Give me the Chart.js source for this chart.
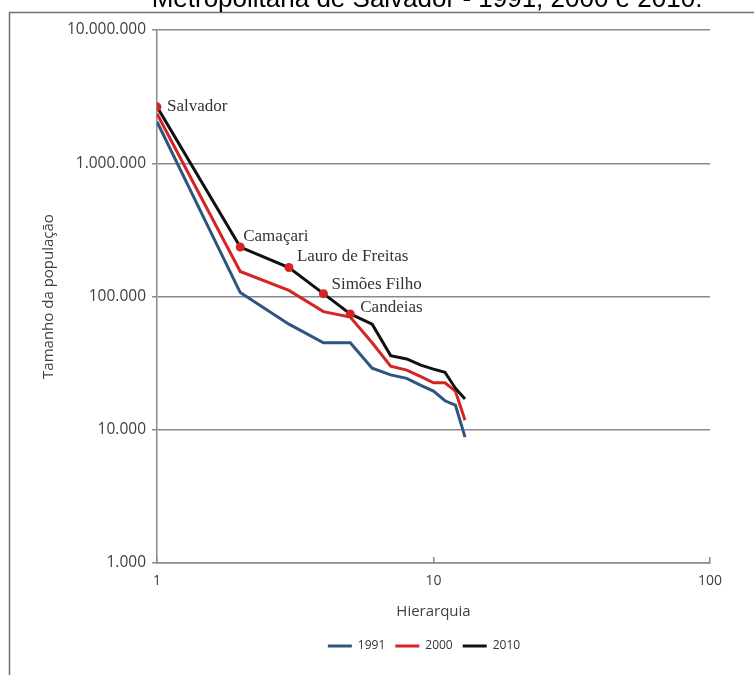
<!DOCTYPE html>
<html>
<head>
<meta charset="utf-8">
<script src="https://cdn.jsdelivr.net/npm/chart.js@4.4.1/dist/chart.umd.min.js"></script>
<style>
  html, body { margin: 0; padding: 0; background: #ffffff; }
  #wrap { position: relative; width: 754px; height: 675px; }
</style>
</head>
<body>
<div id="wrap"><canvas id="c" width="754" height="675"></canvas></div>
<script>
// ---- data ----
const ranks = [1, 2, 3, 4, 5, 6, 7, 8, 9, 10, 11, 12, 13];
const years = ['1991', '2000', '2010'];
const pop1991 = [2050000, 107000, 62000, 45000, 45000, 29000, 25800, 24300, 21500, 19500, 16500, 15300, 8800];
const pop2000 = [2350000, 154000, 111000, 77000, 70000, 45000, 30000, 28000, 25000, 22500, 22500, 19500, 11800];
const pop2010 = [2650000, 235000, 165000, 105000, 74000, 62000, 36000, 34000, 30500, 28500, 27000, 20500, 17000];
const cityNames = ['Salvador', 'Camaçari', 'Lauro de Freitas', 'Simões Filho', 'Candeias'];
const xTicks = [1, 10, 100];
const yTicks = [1000, 10000, 100000, 1000000, 10000000];
const titleText = 'Metropolitana de Salvador - 1991, 2000 e 2010.';

// label offsets (px) relative to the marked points
const labelOffsets = [[10, 0], [3, -11], [8, -11], [8, -9], [10, -6]];

function toPoints(vals) { return ranks.map((r, i) => ({ x: r, y: vals[i] })); }
function fmtBR(v) { return String(Math.round(v)).replace(/\B(?=(\d{3})+(?!\d))/g, '.'); }

const framePlugin = {
  id: 'frame',
  afterLayout(chart) {
    // legend centred under the plot like the original
    const lg = chart.legend;
    if (lg) { lg.left += 130; lg.right += 0; }
  },
  beforeDraw(chart) {
    const ctx = chart.ctx;
    ctx.save();
    ctx.fillStyle = '#ffffff';
    ctx.fillRect(0, 0, chart.width, chart.height);
    ctx.strokeStyle = '#707070';
    ctx.lineWidth = 1.5;
    ctx.strokeRect(9.5, 12.5, 800, 800);
    ctx.fillStyle = '#000000';
    ctx.font = '26px "Liberation Sans", Arial, sans-serif';
    ctx.textAlign = 'center';
    ctx.textBaseline = 'alphabetic';
    ctx.fillText(titleText, 427, 7);
    ctx.restore();
  }
};

const cityLabels = {
  id: 'cityLabels',
  afterDatasetsDraw(chart) {
    const meta = chart.getDatasetMeta(2);
    const ctx = chart.ctx;
    ctx.save();
    ctx.font = '17px "Liberation Serif", "Times New Roman", serif';
    ctx.fillStyle = '#333333';
    ctx.textAlign = 'left';
    ctx.textBaseline = 'middle';
    cityNames.forEach((name, i) => {
      const p = meta.data[i];
      ctx.fillText(name, p.x + labelOffsets[i][0], p.y + labelOffsets[i][1]);
    });
    ctx.restore();
  }
};

const colors = ['#2e5480', '#d42424', '#111111'];
const series = [pop1991, pop2000, pop2010];

new Chart(document.getElementById('c'), {
  type: 'line',
  data: {
    datasets: series.map((vals, k) => ({
      label: years[k],
      data: toPoints(vals),
      borderColor: colors[k],
      backgroundColor: colors[k],
      borderWidth: 3,
      fill: false,
      tension: 0,
      order: 3 - k,
      pointRadius: k === 2 ? ranks.map((r, i) => (i < cityNames.length ? 4.5 : 0)) : 0,
      pointBackgroundColor: '#d42424',
      pointBorderColor: '#d42424',
      pointBorderWidth: 0,
      pointHoverRadius: 0
    }))
  },
  options: {
    responsive: false,
    animation: false,
    layout: { padding: { left: 8, right: 44, top: 30, bottom: 13 } },
    plugins: {
      tooltip: { enabled: false },
      legend: {
        position: 'bottom',
        labels: {
          usePointStyle: true,
          pointStyle: 'line',
          pointStyleWidth: 24,
          padding: 10,
          color: '#333333',
          font: { family: '"Open Sans", sans-serif', size: 12 },
          sort: (a, b) => a.datasetIndex - b.datasetIndex,
          generateLabels(chart) {
            const items = Chart.defaults.plugins.legend.labels.generateLabels(chart);
            items.forEach(it => {
              const ds = chart.data.datasets[it.datasetIndex];
              it.strokeStyle = ds.borderColor;
              it.fillStyle = ds.borderColor;
              it.lineWidth = 3;
              it.pointStyle = 'line';
            });
            return items;
          }
        }
      }
    },
    scales: {
      x: {
        type: 'logarithmic',
        min: 1,
        max: 100,
        afterBuildTicks(scale) { scale.ticks = xTicks.map(v => ({ value: v })); },
        afterFit(scale) { scale.height = 67; },
        border: { display: true, color: '#8a8a8a', width: 1.5 },
        grid: { display: true, drawOnChartArea: false, drawTicks: true, tickLength: -6, color: '#8a8a8a', lineWidth: 1.5 },
        ticks: {
          padding: 16,
          maxRotation: 0,
          color: '#404040',
          font: { family: '"Open Sans", sans-serif', size: 14 },
          callback: v => String(v)
        },
        title: {
          display: true,
          text: 'Hierarquia',
          color: '#404040',
          font: { family: '"Open Sans", sans-serif', size: 15 },
          padding: { top: 0, bottom: 9 }
        }
      },
      y: {
        type: 'logarithmic',
        min: 1000,
        max: 10000000,
        afterBuildTicks(scale) { scale.ticks = yTicks.map(v => ({ value: v })); },
        afterFit(scale) { scale.width = 149; },
        border: { display: true, color: '#8a8a8a', width: 1.5 },
        grid: { color: '#8a8a8a', lineWidth: 1.5, tickLength: 5, drawTicks: true },
        ticks: {
          padding: 6,
          color: '#404040',
          font: { family: '"Open Sans", sans-serif', size: 15.5 },
          callback: v => fmtBR(v)
        },
        title: {
          display: true,
          text: 'Tamanho da população',
          color: '#404040',
          font: { family: '"Open Sans", sans-serif', size: 15 },
          padding: { top: 32, bottom: 0 }
        }
      }
    }
  },
  plugins: [framePlugin, cityLabels]
});
</script>
</body>
</html>
